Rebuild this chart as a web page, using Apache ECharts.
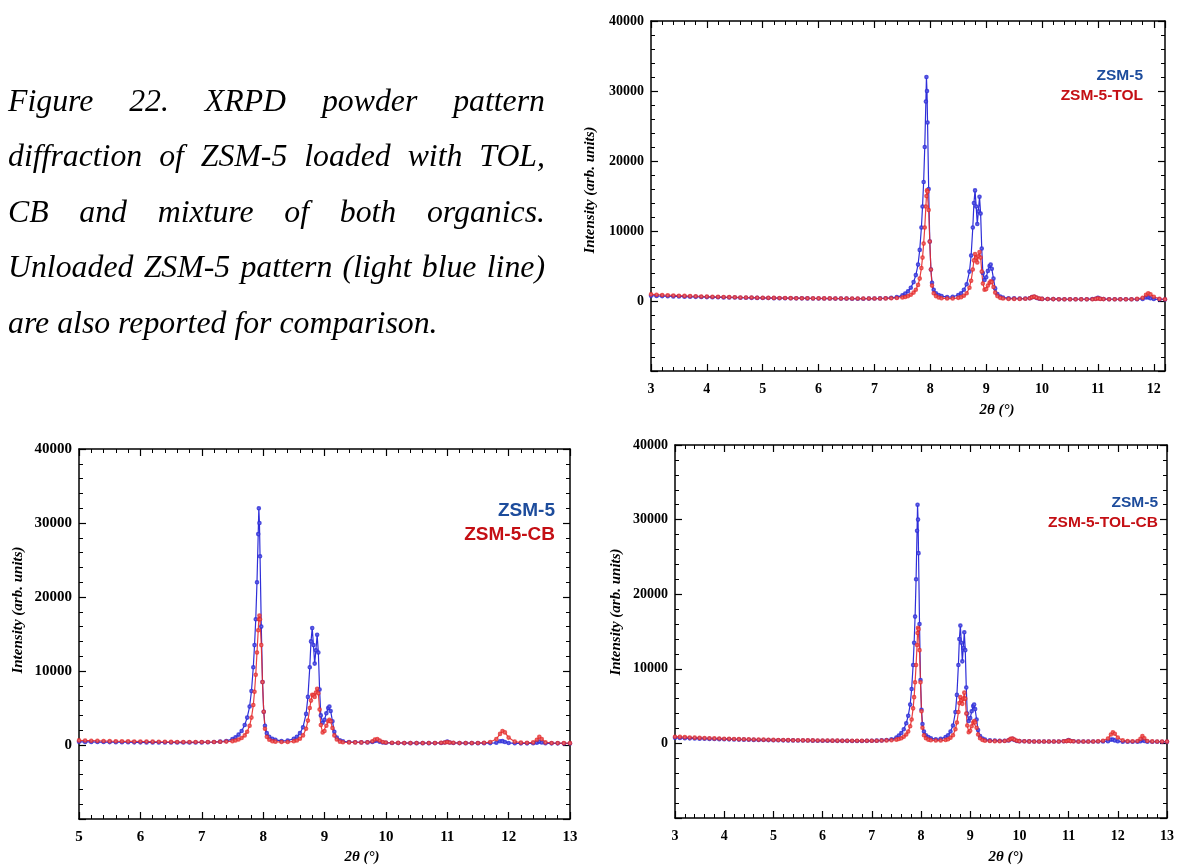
<!DOCTYPE html>
<html>
<head>
<meta charset="utf-8">
<script src="https://cdn.jsdelivr.net/npm/echarts@6/dist/echarts.min.js"></script>
<style>
  html, body { margin: 0; padding: 0; background: #fff; }
  #chart { width: 1177px; height: 867px; }
</style>
</head>
<body>
<div id="chart"></div>
<script>
// 2θ positions (degrees) shared by every pattern
const twoTheta = [
  3.0, 3.1, 3.2, 3.3, 3.4, 3.5, 3.6, 3.7, 3.8, 3.9,
  4.0, 4.1, 4.2, 4.3, 4.4, 4.5, 4.6, 4.7, 4.8, 4.9,
  5.0, 5.1, 5.2, 5.3, 5.4, 5.5, 5.6, 5.7, 5.8, 5.9,
  6.0, 6.1, 6.2, 6.3, 6.4, 6.5, 6.6, 6.7, 6.8, 6.9,
  7.0, 7.1, 7.2, 7.3, 7.4, 7.5, 7.55, 7.6, 7.65, 7.7,
  7.74, 7.78, 7.81, 7.84, 7.86, 7.88, 7.9, 7.92, 7.93, 7.94,
  7.95, 7.97, 7.99, 8.01, 8.03, 8.06, 8.1, 8.15, 8.2, 8.3,
  8.4, 8.5, 8.55, 8.6, 8.65, 8.7, 8.73, 8.76, 8.78, 8.8,
  8.82, 8.84, 8.86, 8.88, 8.9, 8.92, 8.94, 8.97, 9.0, 9.03,
  9.06, 9.08, 9.1, 9.13, 9.16, 9.2, 9.25, 9.3, 9.4, 9.5,
  9.6, 9.7, 9.78, 9.82, 9.86, 9.9, 9.95, 10.0, 10.1, 10.2,
  10.3, 10.4, 10.5, 10.6, 10.7, 10.8, 10.9, 10.96, 11.0, 11.04,
  11.1, 11.2, 11.3, 11.4, 11.5, 11.6, 11.7, 11.8, 11.86, 11.9,
  11.94, 12.0, 12.1, 12.2, 12.3, 12.4, 12.46, 12.5, 12.54, 12.6,
  12.7, 12.8, 12.9, 13.0
];

// Unloaded ZSM-5 intensity (arb. units)
const zsm5 = [
  750, 720, 700, 680, 660, 640, 620, 600, 590, 570,
  560, 540, 530, 510, 500, 490, 470, 460, 450, 440,
  430, 420, 410, 400, 400, 390, 380, 380, 370, 360,
  360, 350, 350, 340, 340, 340, 330, 330, 330, 340,
  350, 370, 400, 450, 550, 800, 1050, 1400, 1900, 2700,
  3700, 5200, 7300, 10500, 13500, 17000, 22000, 28500, 32000, 30000,
  25500, 16000, 8500, 4500, 2600, 1600, 1100, 850, 700, 550,
  600, 850, 1100, 1600, 2400, 4200, 6500, 10500, 14000, 15800,
  13500, 11000, 12800, 14900, 12500, 7500, 4000, 3000, 3400, 4300,
  5000, 5200, 4600, 3200, 1800, 1000, 650, 500, 400, 380,
  350, 350, 400, 550, 600, 450, 330, 300, 280, 270,
  260, 250, 250, 250, 250, 260, 280, 330, 450, 330,
  280, 260, 250, 250, 250, 250, 260, 300, 500, 520,
  400, 280, 230, 220, 220, 230, 300, 450, 330, 230,
  220, 220, 210, 210
];

// ZSM-5 loaded with toluene
const zsm5Tol = [
  950, 900, 860, 820, 790, 760, 730, 700, 680, 650,
  630, 610, 590, 570, 550, 530, 510, 500, 490, 470,
  460, 450, 440, 430, 420, 410, 400, 400, 390, 380,
  380, 370, 370, 360, 360, 360, 350, 350, 350, 350,
  350, 360, 370, 400, 430, 500, 580, 700, 900, 1200,
  1600, 2300, 3200, 4700, 6200, 8200, 10500, 13500, 15000, 15800,
  15600, 13000, 8500, 4500, 2200, 1100, 700, 500, 400, 350,
  350, 450, 550, 750, 1100, 1900, 2900, 4500, 5800, 6700,
  6200, 5500, 6400, 7000, 6200, 4200, 2500, 1600, 1700, 2200,
  2600, 2800, 2700, 2000, 1200, 700, 450, 350, 300, 300,
  300, 320, 400, 550, 620, 480, 350, 300, 280, 270,
  260, 250, 250, 250, 250, 250, 260, 300, 380, 300,
  270, 250, 250, 250, 250, 260, 300, 450, 900, 1100,
  950, 600, 300, 250, 240, 240, 300, 600, 350, 250,
  230, 220, 220, 220
];

// ZSM-5 loaded with chlorobenzene (recorded from 5°)
const zsm5Cb = [
  null, null, null, null, null, null, null, null, null, null,
  null, null, null, null, null, null, null, null, null, null,
  620, 600, 580, 560, 540, 520, 510, 500, 490, 480,
  470, 460, 450, 440, 430, 420, 410, 400, 400, 400,
  400, 400, 410, 430, 460, 520, 600, 750, 950, 1300,
  1800, 2600, 3700, 5400, 7200, 9500, 12500, 15500, 17000, 17500,
  17000, 13500, 8500, 4500, 2200, 1100, 700, 500, 450, 400,
  400, 500, 600, 850, 1300, 2200, 3300, 5000, 6000, 6800,
  6700, 6500, 7100, 7600, 7000, 4800, 2700, 1700, 1900, 2600,
  3200, 3400, 3200, 2300, 1300, 750, 450, 380, 350, 350,
  350, 380, 500, 750, 800, 600, 400, 330, 300, 290,
  280, 270, 270, 270, 270, 280, 300, 330, 400, 330,
  300, 280, 270, 270, 280, 300, 400, 800, 1500, 1900,
  1700, 1000, 450, 320, 300, 350, 700, 1100, 800, 350,
  280, 260, 250, 250
];

// ZSM-5 loaded with the toluene / chlorobenzene mixture
const zsm5TolCb = [
  900, 870, 840, 800, 770, 740, 710, 690, 670, 650,
  630, 610, 590, 570, 550, 540, 520, 510, 500, 480,
  470, 460, 450, 440, 430, 420, 410, 400, 400, 390,
  380, 380, 370, 370, 360, 360, 360, 350, 350, 350,
  350, 360, 380, 400, 430, 500, 580, 700, 900, 1200,
  1600, 2300, 3200, 4700, 6200, 8200, 10500, 13200, 14800, 15500,
  15300, 12500, 8200, 4300, 2100, 1100, 700, 500, 420, 380,
  380, 450, 550, 750, 1100, 1900, 2800, 4200, 5400, 6200,
  5800, 5300, 6000, 6800, 6000, 4000, 2400, 1500, 1700, 2300,
  2800, 3000, 2800, 2100, 1200, 700, 450, 350, 320, 300,
  300, 320, 420, 600, 650, 500, 350, 300, 280, 270,
  260, 250, 250, 250, 250, 260, 280, 310, 400, 310,
  280, 260, 250, 250, 260, 280, 350, 650, 1200, 1500,
  1300, 800, 400, 300, 280, 320, 600, 1000, 700, 320,
  270, 250, 240, 240
];

// Panel definitions: loaded sample, its label, and the 2θ window shown
const panelNames = ['ZSM-5-TOL', 'ZSM-5-CB', 'ZSM-5-TOL-CB'];
const panelValues = [zsm5Tol, zsm5Cb, zsm5TolCb];
const panelXRange = [[3, 12.2], [5, 13], [3, 13]];
const intensityRange = [-10000, 40000];
const intensityStep = 10000;

const captionLines = [
  'Figure 22. XRPD powder pattern',
  'diffraction of ZSM-5 loaded with TOL,',
  'CB and mixture of both organics.',
  'Unloaded ZSM-5 pattern (light blue line)',
  'are also reported for comparison.'
];

const BLUE = '#2e2ed8';
const RED = '#e52a2a';
const BLUE_TEXT = '#1d4c9c';
const RED_TEXT = '#c40f14';
const SERIF = '"Liberation Serif", "Times New Roman", serif';
const SANS = '"Liberation Sans", Arial, sans-serif';

function pairs(values) {
  const out = [];
  twoTheta.forEach((x, i) => { if (values[i] != null) out.push([x, values[i]]); });
  return out;
}

// Layout of the three panels
const layout = [
  { grid: { left: 651, top: 21, width: 514, height: 350 }, font: 14,
    yTitle: [590, 190], xTitle: [997, 410], legend: [1143, 76, 96, 15.5] },
  { grid: { left: 79, top: 449, width: 491, height: 370 }, font: 15,
    yTitle: [18, 610], xTitle: [362, 857], legend: [555, 511, 535, 19] },
  { grid: { left: 675, top: 445, width: 498, height: 373 }, font: 14,
    yTitle: [616, 612], xTitle: [1006, 857], legend: [1158, 503, 523, 15.5] }
];

const frameLine = { show: true, onZero: false, lineStyle: { color: '#000', width: 1.5 } };
const tick = { show: true, inside: true, length: 7, lineStyle: { color: '#000', width: 1.2 } };
const minor = { show: true, splitNumber: 5, length: 4, lineStyle: { color: '#000', width: 1 } };

const grids = [], xAxes = [], yAxes = [], series = [], graphics = [];

layout.forEach((p, i) => {
  grids.push(p.grid);
  const [xmin, xmax] = panelXRange[i];
  const labelStyle = { fontFamily: SERIF, fontWeight: 'bold', fontSize: p.font, color: '#000' };
  xAxes.push({
    type: 'value', gridIndex: i, position: 'bottom', min: xmin, max: xmax, interval: 1,
    axisLine: frameLine, axisTick: tick, minorTick: minor, splitLine: { show: false },
    axisLabel: Object.assign({ margin: 11, showMaxLabel: true,
      formatter: v => (Math.abs(v - Math.round(v)) < 1e-6 ? String(Math.round(v)) : '') }, labelStyle)
  });
  xAxes.push({
    type: 'value', gridIndex: i, position: 'top', min: xmin, max: xmax, interval: 1,
    axisLine: frameLine, axisTick: tick, minorTick: minor, splitLine: { show: false },
    axisLabel: { show: false }
  });
  yAxes.push({
    type: 'value', gridIndex: i, position: 'left',
    min: intensityRange[0], max: intensityRange[1], interval: intensityStep,
    axisLine: frameLine, axisTick: tick, minorTick: minor, splitLine: { show: false },
    axisLabel: Object.assign({ margin: 7, formatter: v => (v < 0 ? '' : String(v)) }, labelStyle)
  });
  yAxes.push({
    type: 'value', gridIndex: i, position: 'right',
    min: intensityRange[0], max: intensityRange[1], interval: intensityStep,
    axisLine: frameLine, axisTick: tick, minorTick: minor, splitLine: { show: false },
    axisLabel: { show: false }
  });

  const common = {
    type: 'line', xAxisIndex: 2 * i, yAxisIndex: 2 * i, clip: true,
    symbol: 'emptyCircle', symbolSize: 2.6, showAllSymbol: true, animation: false
  };
  series.push(Object.assign({}, common, {
    name: 'ZSM-5', data: pairs(zsm5),
    itemStyle: { color: BLUE, borderWidth: 0.8, opacity: 0.85 },
    lineStyle: { color: BLUE, width: 1.2 }
  }));
  series.push(Object.assign({}, common, {
    name: panelNames[i], data: pairs(panelValues[i]),
    itemStyle: { color: RED, borderWidth: 0.8, opacity: 0.8 },
    lineStyle: { color: RED, width: 1.2, opacity: 0.9 }
  }));

  // Axis titles
  graphics.push({
    type: 'text', x: p.yTitle[0], y: p.yTitle[1], rotation: Math.PI / 2,
    style: { text: 'Intensity (arb. units)', font: 'italic bold 15px ' + SERIF,
      fill: '#000', align: 'center', verticalAlign: 'middle' }
  });
  graphics.push({
    type: 'text', x: p.xTitle[0], y: p.xTitle[1],
    style: { text: '2θ (°)', font: 'italic bold 15px ' + SERIF,
      fill: '#000', align: 'center', verticalAlign: 'middle' }
  });
  // Sample labels
  const [lx, ly1, ly2, lf] = p.legend;
  graphics.push({
    type: 'text', x: lx, y: ly1,
    style: { text: 'ZSM-5', font: 'bold ' + lf + 'px ' + SANS, fill: BLUE_TEXT,
      align: 'right', verticalAlign: 'middle' }
  });
  graphics.push({
    type: 'text', x: lx, y: ly2,
    style: { text: panelNames[i], font: 'bold ' + lf + 'px ' + SANS, fill: RED_TEXT,
      align: 'right', verticalAlign: 'middle' }
  });
});

// Caption block, justified between left and right margins
(function addCaption() {
  const font = 'italic 31.8px ' + SERIF;
  const left = 8, right = 545;
  const lineY = [103, 158, 214, 269, 325];
  const ctx = document.createElement('canvas').getContext('2d');
  ctx.font = font;
  captionLines.forEach((line, li) => {
    const words = line.split(' ');
    const last = li === captionLines.length - 1;
    if (last) {
      graphics.push({ type: 'text', x: left, y: lineY[li],
        style: { text: line, font: font, fill: '#000', align: 'left', verticalAlign: 'middle' } });
      return;
    }
    const widths = words.map(w => ctx.measureText(w).width);
    const total = widths.reduce((a, b) => a + b, 0);
    const gap = (right - left - total) / (words.length - 1);
    let x = left;
    words.forEach((w, wi) => {
      graphics.push({ type: 'text', x: x, y: lineY[li],
        style: { text: w, font: font, fill: '#000', align: 'left', verticalAlign: 'middle' } });
      x += widths[wi] + gap;
    });
  });
})();

const chart = echarts.init(document.getElementById('chart'), null, { renderer: 'canvas' });
chart.setOption({
  backgroundColor: '#fff',
  animation: false,
  grid: grids,
  xAxis: xAxes,
  yAxis: yAxes,
  series: series,
  graphic: graphics
});
</script>
</body>
</html>
